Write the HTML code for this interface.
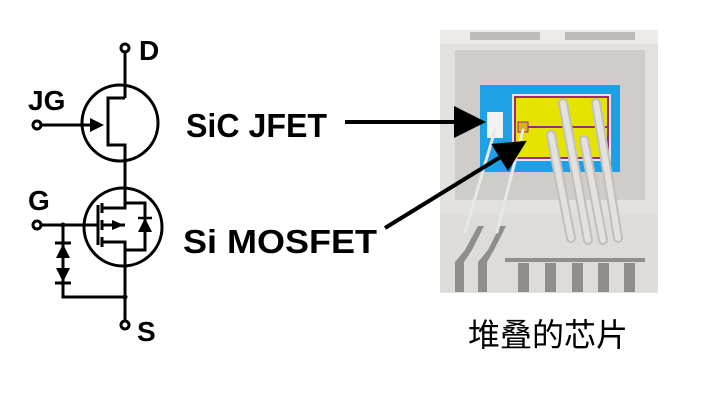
<!DOCTYPE html>
<html><head><meta charset="utf-8"><style>html,body{margin:0;padding:0;background:#fff;width:704px;height:417px;overflow:hidden}</style></head>
<body>
<svg width="704" height="417" viewBox="0 0 704 417" xmlns="http://www.w3.org/2000/svg">
<defs>
<marker id="ah" markerWidth="8" markerHeight="8" refX="6" refY="4" orient="auto" markerUnits="strokeWidth"><path d="M0,0 L8,4 L0,8 z" fill="#000"/></marker>
</defs>
<g stroke="#000" stroke-width="3" fill="none">
<circle cx="125" cy="48" r="4" fill="#fff"/>
<line x1="125" y1="52" x2="125" y2="98"/>
<circle cx="120" cy="123" r="38"/>
<polyline points="125,98 108,98 108,145 125,145 125,190"/>
<circle cx="37" cy="125" r="4" fill="#fff"/>
<line x1="41" y1="125" x2="96" y2="125"/>
<circle cx="123" cy="227" r="39"/>
<circle cx="37" cy="225" r="4" fill="#fff"/>
<line x1="41" y1="225" x2="98" y2="225"/>
<line x1="98" y1="205" x2="98" y2="245"/>
<line x1="102" y1="203" x2="102" y2="213"/>
<line x1="102" y1="220" x2="102" y2="230"/>
<line x1="102" y1="237" x2="102" y2="247"/>
<polyline points="102,208 125,208 125,190"/>
<polyline points="102,242 125,242 125,320"/>
<line x1="102" y1="225" x2="125" y2="225"/>
<polyline points="125,203 145,203 145,250 125,250"/>
<polyline points="63,225 63,297 125,297"/>
<circle cx="125" cy="325" r="4" fill="#fff"/>
<line x1="55" y1="243" x2="71" y2="243"/>
<line x1="55" y1="283" x2="71" y2="283"/>
</g>
<polygon points="90,118 104,125 90,132" fill="#000"/>
<polygon points="112,220 124,225 112,230" fill="#000"/>
<polygon points="138,232 152,232 145,218" fill="#000"/>
<line x1="138" y1="218" x2="152" y2="218" stroke="#000" stroke-width="2.5"/>
<polygon points="56,258 70,258 63,244" fill="#000"/>
<polygon points="56,268 70,268 63,282" fill="#000"/>
<circle cx="63" cy="225" r="2.5" fill="#000"/>
<circle cx="125" cy="297" r="2.5" fill="#000"/>
<g font-family="Liberation Sans, sans-serif" font-weight="bold" fill="#000">
<text x="139" y="60" font-size="28">D</text>
<text x="28" y="110" font-size="28">JG</text>
<text x="28" y="210" font-size="28">G</text>
<text x="137" y="341" font-size="28">S</text>
<text x="186" y="137" font-size="33" textLength="141" lengthAdjust="spacingAndGlyphs">SiC JFET</text>
<text x="183" y="253" font-size="33" textLength="194" lengthAdjust="spacingAndGlyphs">Si MOSFET</text>
</g>
<!-- package -->
<rect x="440" y="30" width="218" height="263" fill="#e2e1de"/>
<rect x="440" y="30" width="218" height="14" fill="#ecebe8"/>
<rect x="470" y="32" width="70" height="8" fill="#bdbcb9"/>
<rect x="565" y="32" width="70" height="8" fill="#bdbcb9"/>
<rect x="455" y="50" width="190" height="150" fill="#cfcdc9"/>
<rect x="480" y="85" width="140" height="87" fill="#1ea0e6"/>
<rect x="512" y="94" width="99" height="67" fill="#e6e6e6"/>
<rect x="515" y="97" width="93" height="61" fill="#e4e400" stroke="#9a2a7a" stroke-width="2"/>
<line x1="525" y1="127" x2="608" y2="127" stroke="#9a2a7a" stroke-width="2"/>
<rect x="487" y="112" width="16" height="26" fill="#f2f2f2"/>
<rect x="518" y="122" width="10" height="10" fill="#d8b020" stroke="#9a2a7a"/>
<rect x="440" y="215" width="218" height="77" fill="#dddcd9"/>
<g fill="#8f8e8b">
<polygon points="455,262 465,250 478,226 484,226 472,250 464,262 464,292 455,292"/>
<polygon points="478,262 488,250 500,226 506,226 494,250 487,262 487,292 478,292"/>
<rect x="518" y="263" width="11" height="29"/><rect x="545" y="263" width="11" height="29"/><rect x="572" y="263" width="11" height="29"/><rect x="598" y="263" width="11" height="29"/><rect x="624" y="263" width="11" height="29"/>
<rect x="505" y="258" width="140" height="4"/>
</g>
<g stroke-linecap="round">
<line x1="495" y1="130" x2="465" y2="232" stroke="#e8e8e8" stroke-width="3"/>
<line x1="523" y1="130" x2="497" y2="232" stroke="#e8e8e8" stroke-width="3"/>
<g stroke="#c0bfbc" stroke-width="10">
<line x1="551" y1="135" x2="571" y2="238"/><line x1="563" y1="103" x2="588" y2="240"/><line x1="584" y1="140" x2="603" y2="240"/><line x1="596" y1="103" x2="618" y2="238"/>
</g>
<g stroke="#e2e1de" stroke-width="6">
<line x1="551" y1="135" x2="571" y2="238"/><line x1="563" y1="103" x2="588" y2="240"/><line x1="584" y1="140" x2="603" y2="240"/><line x1="596" y1="103" x2="618" y2="238"/>
</g>
</g>
<!-- arrows on top -->
<g stroke="#000" stroke-width="4" fill="none">
<line x1="345" y1="122" x2="478" y2="122" marker-end="url(#ah)"/>
<line x1="385" y1="228" x2="520" y2="145" marker-end="url(#ah)"/>
</g>
<text x="468" y="346" font-family="Liberation Sans, Noto Sans CJK SC, sans-serif" font-size="32" fill="#000">堆叠的芯片</text>
</svg>
</body></html>
